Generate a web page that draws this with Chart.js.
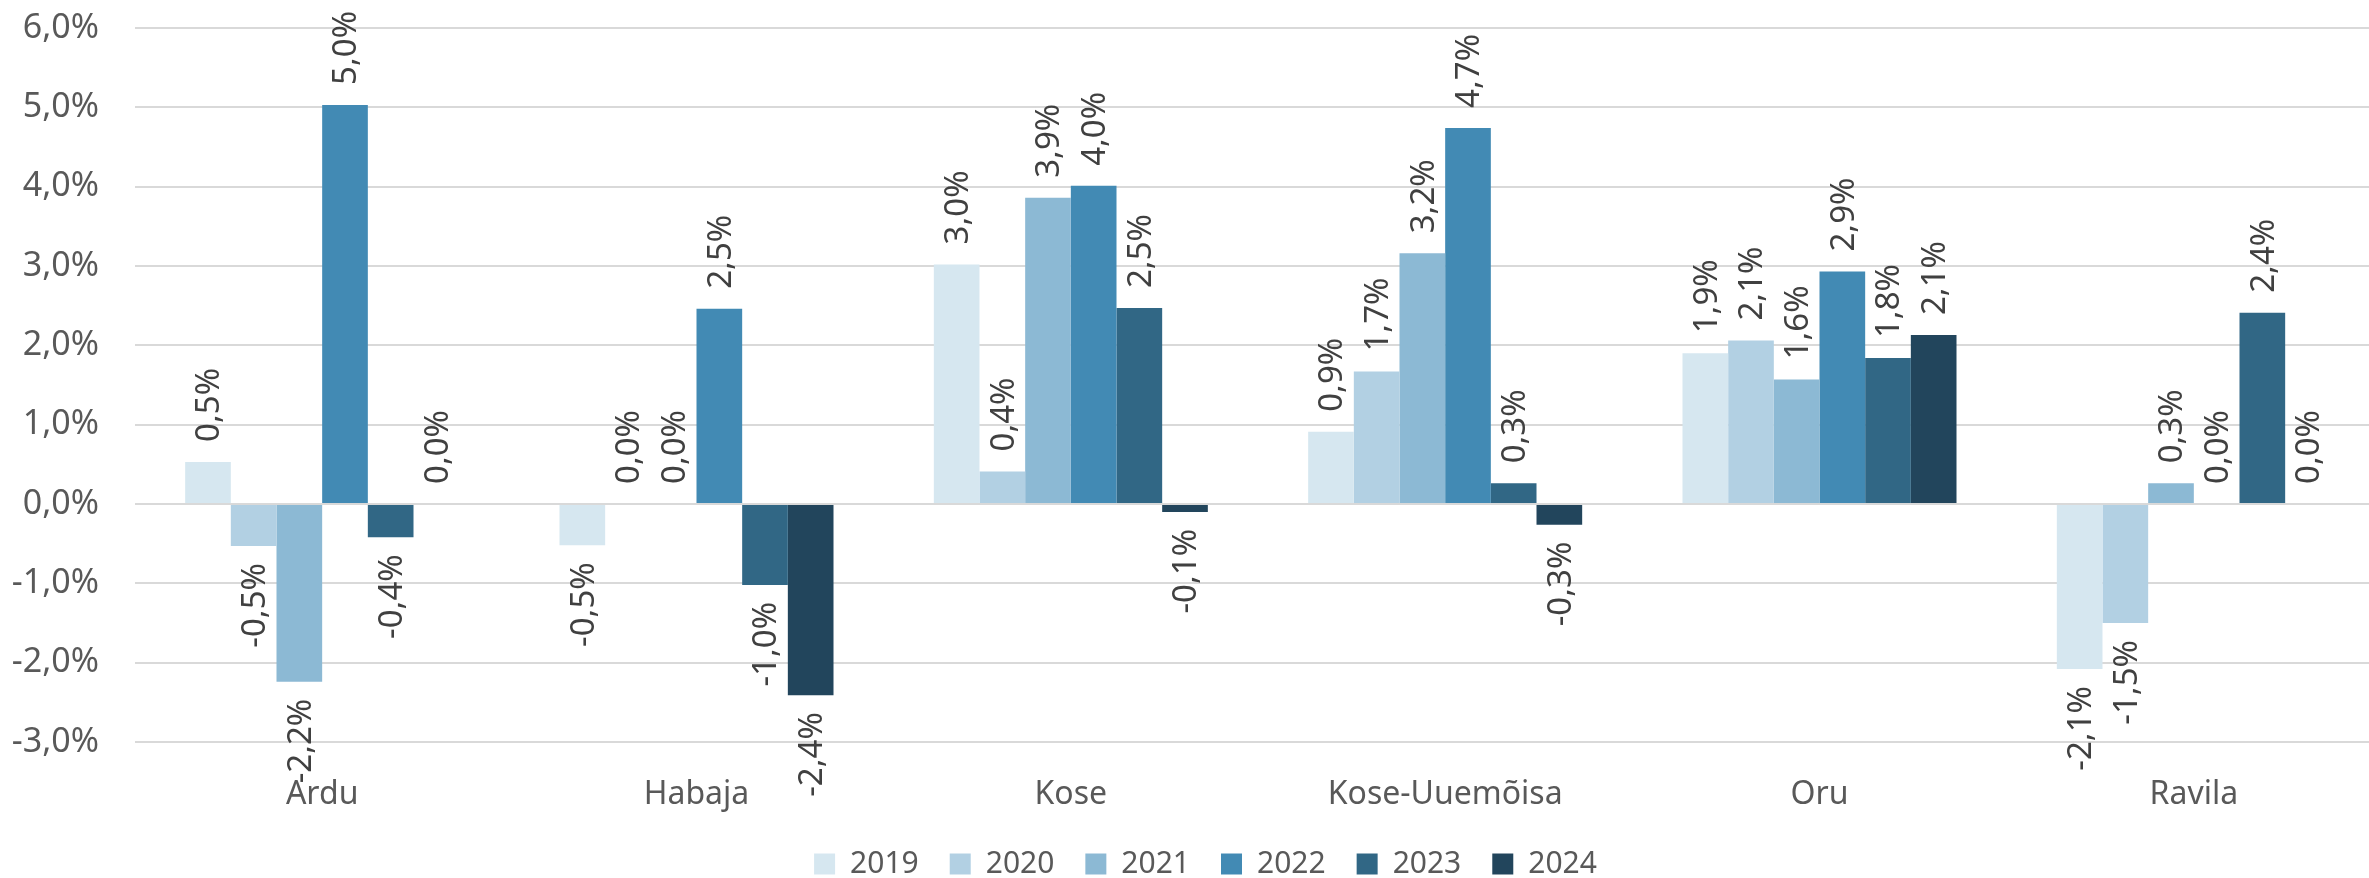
<!DOCTYPE html>
<html>
<head>
<meta charset="utf-8">
<script src="https://cdn.jsdelivr.net/npm/chart.js@4.4.1/dist/chart.umd.min.js"></script>
<style>
  html, body { margin: 0; padding: 0; background: #ffffff; overflow: hidden; }
  #wrap { width: 2369px; height: 878px; overflow: hidden; position: relative; }
  canvas { display: block; }
</style>
</head>
<body>
<div id="wrap"><canvas id="c" width="2390" height="888"></canvas></div>
<script>
const categories = ['Ardu', 'Habaja', 'Kose', 'Kose-Uuemõisa', 'Oru', 'Ravila'];
const years = ['2019', '2020', '2021', '2022', '2023', '2024'];
const values2019 = [0.53, -0.52, 3.02, 0.91, 1.90, -2.08];
const values2020 = [-0.53, 0.00, 0.41, 1.67, 2.06, -1.50];
const values2021 = [-2.24, 0.00, 3.86, 3.16, 1.57, 0.26];
const values2022 = [5.03, 2.46, 4.01, 4.74, 2.93, 0.00];
const values2023 = [-0.42, -1.02, 2.47, 0.26, 1.84, 2.41];
const values2024 = [0.00, -2.41, -0.10, -0.26, 2.13, 0.00];
const yTickValues = [-3, -2, -1, 0, 1, 2, 3, 4, 5, 6];
const colors = ['#D6E7F0', '#B2D0E3', '#8CB9D4', '#428AB4', '#316785', '#22455C'];

const seriesValues = [values2019, values2020, values2021, values2022, values2023, values2024];

function fmt(v) {
  return v.toFixed(1).replace('.', ',') + '%';
}

const FONT = "'Noto Sans', 'DejaVu Sans', sans-serif";

const dataLabelPlugin = {
  id: 'vlabels',
  afterDatasetsDraw(chart) {
    const ctx = chart.ctx;
    ctx.save();
    ctx.font = '33px ' + FONT;
    ctx.fillStyle = '#404040';
    ctx.textBaseline = 'middle';
    chart.data.datasets.forEach((ds, di) => {
      const meta = chart.getDatasetMeta(di);
      meta.data.forEach((bar, i) => {
        const v = ds.data[i];
        const txt = fmt(v);
        ctx.save();
        if (v >= 0) {
          ctx.translate(bar.x + 2, bar.y - 20);
          ctx.rotate(-Math.PI / 2);
          ctx.textAlign = 'left';
        } else {
          ctx.translate(bar.x + 2, bar.y + 17);
          ctx.rotate(-Math.PI / 2);
          ctx.textAlign = 'right';
        }
        ctx.fillText(txt, 0, 0);
        ctx.restore();
      });
    });
    ctx.restore();
  }
};

const legendShift = {
  id: 'legendShift',
  afterLayout(chart) {
    const lg = chart.legend;
    if (!lg) return;
    lg.left += 15; lg.right += 15;
    lg.top += 1; lg.bottom += 1;
  }
};

new Chart(document.getElementById('c'), {
  type: 'bar',
  data: {
    labels: categories,
    datasets: years.map((y, k) => ({
      label: y,
      data: seriesValues[k],
      backgroundColor: colors[k],
      borderWidth: 0,
      categoryPercentage: 0.732,
      barPercentage: 1.0
    }))
  },
  options: {
    responsive: false,
    devicePixelRatio: 1,
    animation: false,
    layout: { padding: { top: 28, right: 9, left: 0, bottom: 0 } },
    plugins: {
      legend: {
        position: 'bottom',
        labels: {
          font: { family: FONT, size: 30 },
          color: '#595959',
          boxWidth: 21,
          boxHeight: 21,
          padding: 31
        }
      },
      tooltip: { enabled: false }
    },
    scales: {
      x: {
        grid: { display: false, drawTicks: false },
        border: { display: false },
        ticks: {
          font: { family: FONT, size: 32 },
          color: '#595959',
          padding: 34,
          maxRotation: 0,
          autoSkip: false
        },
        afterFit(scale) { scale.height = 75; scale.paddingLeft = 0; scale.paddingRight = 0; }
      },
      y: {
        min: -3,
        max: 6,
        afterBuildTicks(scale) { scale.ticks = yTickValues.map(v => ({ value: v })); },
        grid: { color: '#D9D9D9', lineWidth: 2, drawTicks: false },
        border: { display: false },
        ticks: {
          font: { family: FONT, size: 34 },
          color: '#595959',
          padding: 36,
          callback: (v) => fmt(v)
        },
        afterFit(scale) { scale.width = 135; scale.paddingTop = 0; scale.paddingBottom = 0; }
      }
    }
  },
  plugins: [dataLabelPlugin, legendShift]
});
</script>
</body>
</html>
